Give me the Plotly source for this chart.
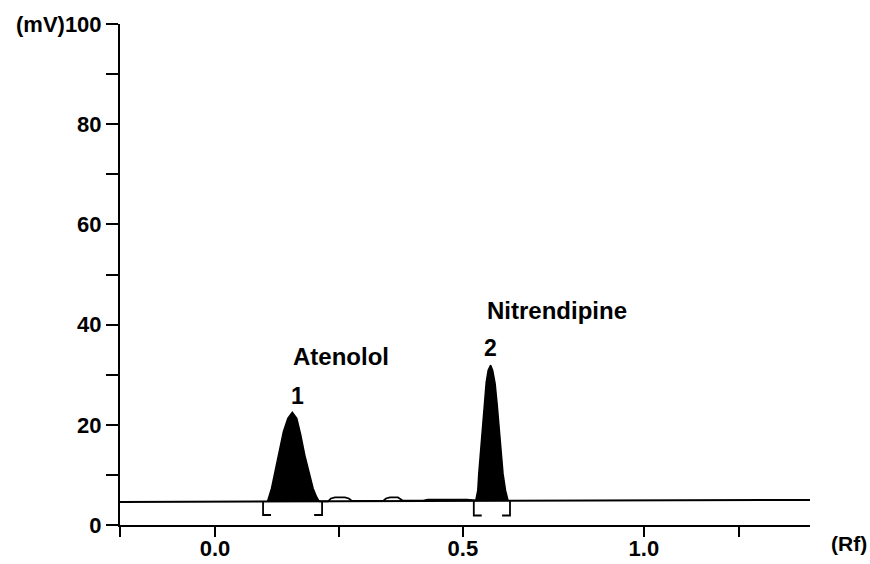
import plotly.graph_objects as go

# ---- data (x in Rf-scale units as drawn, y in mV) ----
baseline_x = [-0.1915, 1.2]
baseline_y = [4.6, 5.0]

peak1_x = [0.106, 0.114, 0.121, 0.129, 0.138, 0.147, 0.156, 0.165, 0.173, 0.181, 0.190, 0.198, 0.205, 0.210]
peak1_y = [4.7, 7.3, 10.6, 14.6, 18.6, 21.3, 22.5, 21.3, 18.0, 14.0, 10.3, 7.3, 5.6, 4.7]

peak2_x = [0.526, 0.530, 0.532, 0.536, 0.539, 0.543, 0.547, 0.551, 0.556, 0.560, 0.565, 0.569, 0.573, 0.577, 0.581, 0.586, 0.591]
peak2_y = [4.9, 6.9, 10.2, 14.9, 20.2, 24.9, 28.5, 30.9, 31.9, 30.9, 28.2, 24.2, 19.6, 14.2, 10.2, 6.9, 4.9]

trace_x = [0.210, 0.228, 0.234, 0.242, 0.262, 0.270, 0.276, 0.300, 0.339, 0.345, 0.353, 0.369, 0.375, 0.379, 0.420, 0.429, 0.508, 0.526]
trace_y = [4.7, 4.7, 5.3, 5.5, 5.5, 5.3, 4.8, 4.75, 4.8, 5.3, 5.5, 5.5, 5.2, 4.85, 4.85, 5.05, 5.05, 4.9]

bracket_start = [0.097, 0.522]
bracket_end = [0.216, 0.595]
bracket_top = [4.6, 4.85]
bracket_bottom = [2.0, 1.9]
bracket_foot = 0.016

peak_numbers = ["1", "2"]
peak_names = ["Atenolol", "Nitrendipine"]
number_pos_x = [0.167, 0.556]
number_pos_y = [25.8, 35.3]
name_pos_x = [0.254, 0.690]
name_pos_y = [33.6, 42.9]

x_tick_vals = [-0.1915, 0.0, 0.25, 0.5, 0.865, 1.056]
x_tick_text = ["", "0.0", "", "0.5", "1.0", ""]
y_tick_vals = [0, 10, 20, 30, 40, 50, 60, 70, 80, 90, 100]
y_tick_text = ["0", "", "20", "", "40", "", "60", "", "80", "", "(mV)100"]

FONT = "Liberation Sans"

fig = go.Figure()

# baseline
fig.add_trace(go.Scatter(x=baseline_x, y=baseline_y, mode="lines",
                         line=dict(color="black", width=2), hoverinfo="skip"))

# filled peaks
for px, py in [(peak1_x, peak1_y), (peak2_x, peak2_y)]:
    fig.add_trace(go.Scatter(x=px, y=py, mode="lines", fill="toself",
                             fillcolor="black", line=dict(color="black", width=1.5),
                             hoverinfo="skip"))

# trace between peaks
fig.add_trace(go.Scatter(x=trace_x, y=trace_y, mode="lines",
                         line=dict(color="black", width=1.8), hoverinfo="skip"))

# integration brackets
bx, by = [], []
for s, e, t, b in zip(bracket_start, bracket_end, bracket_top, bracket_bottom):
    bx += [s, s, s + bracket_foot, None, e - bracket_foot, e, e, None]
    by += [t, b, b, None, b, b, t, None]
fig.add_trace(go.Scatter(x=bx, y=by, mode="lines",
                         line=dict(color="black", width=1.8), hoverinfo="skip"))

annotations = []
for t, x, y in zip(peak_numbers, number_pos_x, number_pos_y):
    annotations.append(dict(x=x, y=y, text=t, showarrow=False, xanchor="center", yanchor="middle",
                            font=dict(family=FONT, size=23, color="black", weight="bold")))
for t, x, y in zip(peak_names, name_pos_x, name_pos_y):
    annotations.append(dict(x=x, y=y, text=t, showarrow=False, xanchor="center", yanchor="middle",
                            font=dict(family=FONT, size=24, color="black", weight="bold")))
annotations.append(dict(x=1.0565, y=-0.036, xref="paper", yref="paper", text="(Rf)",
                        showarrow=False, xanchor="center", yanchor="middle",
                        font=dict(family=FONT, size=21, color="black", weight="bold")))

fig.update_layout(
    width=870, height=564,
    margin=dict(l=120, r=60, t=24, b=39),
    plot_bgcolor="white", paper_bgcolor="white",
    showlegend=False,
    annotations=annotations,
    xaxis=dict(range=[-0.1915, 1.2], showgrid=False, zeroline=False, automargin=False,
               showline=True, linecolor="black", linewidth=2,
               ticks="outside", ticklen=10, tickwidth=2, tickcolor="black",
               ticklabelstandoff=-7,
               tickmode="array", tickvals=x_tick_vals, ticktext=x_tick_text,
               tickfont=dict(family=FONT, size=22, color="black", weight="bold")),
    yaxis=dict(range=[0, 100], showgrid=False, zeroline=False, automargin=False,
               showline=True, linecolor="black", linewidth=2,
               ticks="outside", ticklen=12, tickwidth=2, tickcolor="black",
               tickmode="array", tickvals=y_tick_vals, ticktext=y_tick_text,
               tickfont=dict(family=FONT, size=22, color="black", weight="bold")),
)

fig.write_html("out.html", config={"displayModeBar": False},
               post_script="document.body.style.margin='0px';")
